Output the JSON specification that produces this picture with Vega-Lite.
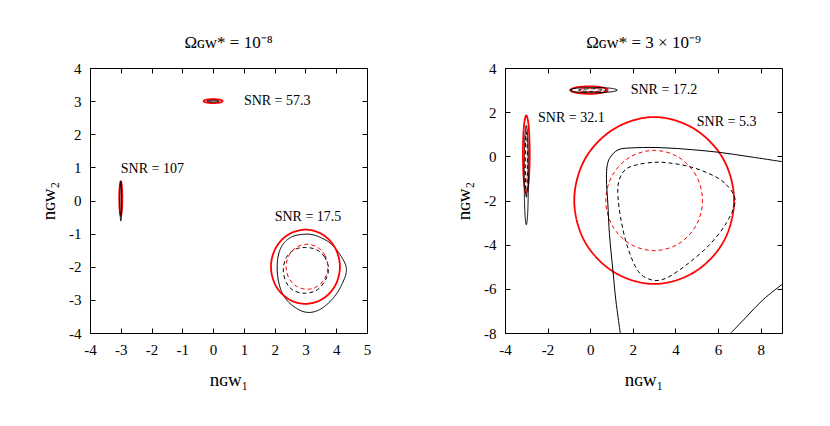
{
  "$schema": "https://vega.github.io/schema/vega-lite/v6.json",
  "padding": {"left": 39, "top": 33, "right": 5, "bottom": 5},
  "background": "white",
  "spacing": 138,
  "bounds": "flush",
  "config": {
    "view": {"stroke": "black", "strokeWidth": 1},
    "axis": {
      "labelFont": "Liberation Serif", "labelFontSize": 15, "labelColor": "black",
      "titleFont": "Liberation Serif", "titleFontSize": 19, "titleFontWeight": "normal", "titleColor": "black",
      "tickColor": "black", "tickSize": -5, "labelPadding": 14, "domain": false, "grid": false,
      "labelFlush": false, "labelOverlap": false, "titlePadding": 10
    },
    "axisX": {"titlePadding": 13},
    "title": {"font": "Liberation Serif", "fontSize": 17, "fontWeight": "normal", "color": "black", "offset": 9},
    "text": {"font": "Liberation Serif", "fontSize": 14, "color": "black"}
  },
  "datasets": {
    "leftClosed": [
      {"c":"L1","k":"red solid","i":0,"x":0.31,"y":3},{"c":"L1","k":"red solid","i":1,"x":0.219,"y":3.042},{"c":"L1","k":"red solid","i":2,"x":0,"y":3.06},{"c":"L1","k":"red solid","i":3,"x":-0.219,"y":3.042},{"c":"L1","k":"red solid","i":4,"x":-0.31,"y":3},{"c":"L1","k":"red solid","i":5,"x":-0.219,"y":2.958},{"c":"L1","k":"red solid","i":6,"x":0,"y":2.94},{"c":"L1","k":"red solid","i":7,"x":0.219,"y":2.958},
      {"c":"L3","k":"red solid","i":0,"x":-2.95,"y":0.065},{"c":"L3","k":"red solid","i":1,"x":-2.965,"y":0.433},{"c":"L3","k":"red solid","i":2,"x":-3,"y":0.585},{"c":"L3","k":"red solid","i":3,"x":-3.035,"y":0.433},{"c":"L3","k":"red solid","i":4,"x":-3.05,"y":0.065},{"c":"L3","k":"red solid","i":5,"x":-3.035,"y":-0.303},{"c":"L3","k":"red solid","i":6,"x":-3,"y":-0.455},{"c":"L3","k":"red solid","i":7,"x":-2.965,"y":-0.303},
      {"c":"L6","k":"black solid","i":0,"x":4.33,"y":-2.05},{"c":"L6","k":"black solid","i":1,"x":4.1,"y":-1.6},{"c":"L6","k":"black solid","i":2,"x":3.75,"y":-1.25},{"c":"L6","k":"black solid","i":3,"x":3.3,"y":-1.05},{"c":"L6","k":"black solid","i":4,"x":2.95,"y":-1.02},{"c":"L6","k":"black solid","i":5,"x":2.55,"y":-1.1},{"c":"L6","k":"black solid","i":6,"x":2.25,"y":-1.35},{"c":"L6","k":"black solid","i":7,"x":2.1,"y":-1.75},{"c":"L6","k":"black solid","i":8,"x":2.1,"y":-2.3},{"c":"L6","k":"black solid","i":9,"x":2.25,"y":-2.8},{"c":"L6","k":"black solid","i":10,"x":2.55,"y":-3.15},{"c":"L6","k":"black solid","i":11,"x":3.0,"y":-3.37},{"c":"L6","k":"black solid","i":12,"x":3.45,"y":-3.3},{"c":"L6","k":"black solid","i":13,"x":3.9,"y":-2.95},{"c":"L6","k":"black solid","i":14,"x":4.2,"y":-2.5},
      {"c":"L8","k":"black dashed","i":0,"x":3.75,"y":-2.05},{"c":"L8","k":"black dashed","i":1,"x":3.62,"y":-1.7},{"c":"L8","k":"black dashed","i":2,"x":3.35,"y":-1.48},{"c":"L8","k":"black dashed","i":3,"x":3.0,"y":-1.42},{"c":"L8","k":"black dashed","i":4,"x":2.65,"y":-1.48},{"c":"L8","k":"black dashed","i":5,"x":2.38,"y":-1.72},{"c":"L8","k":"black dashed","i":6,"x":2.28,"y":-2.1},{"c":"L8","k":"black dashed","i":7,"x":2.38,"y":-2.48},{"c":"L8","k":"black dashed","i":8,"x":2.62,"y":-2.72},{"c":"L8","k":"black dashed","i":9,"x":3.0,"y":-2.8},{"c":"L8","k":"black dashed","i":10,"x":3.38,"y":-2.7},{"c":"L8","k":"black dashed","i":11,"x":3.65,"y":-2.4},
      {"c":"L5","k":"red solid","i":0,"x":4.12,"y":-2},{"c":"L5","k":"red solid","i":1,"x":3.97,"y":-1.44},{"c":"L5","k":"red solid","i":2,"x":3.56,"y":-1.03},{"c":"L5","k":"red solid","i":3,"x":3,"y":-0.88},{"c":"L5","k":"red solid","i":4,"x":2.44,"y":-1.03},{"c":"L5","k":"red solid","i":5,"x":2.03,"y":-1.44},{"c":"L5","k":"red solid","i":6,"x":1.88,"y":-2},{"c":"L5","k":"red solid","i":7,"x":2.03,"y":-2.56},{"c":"L5","k":"red solid","i":8,"x":2.44,"y":-2.97},{"c":"L5","k":"red solid","i":9,"x":3,"y":-3.12},{"c":"L5","k":"red solid","i":10,"x":3.56,"y":-2.97},{"c":"L5","k":"red solid","i":11,"x":3.97,"y":-2.56},
      {"c":"L7","k":"red dashed","i":0,"x":3.73,"y":-2},{"c":"L7","k":"red dashed","i":1,"x":3.639,"y":-1.66},{"c":"L7","k":"red dashed","i":2,"x":3.39,"y":-1.411},{"c":"L7","k":"red dashed","i":3,"x":3.05,"y":-1.32},{"c":"L7","k":"red dashed","i":4,"x":2.71,"y":-1.411},{"c":"L7","k":"red dashed","i":5,"x":2.461,"y":-1.66},{"c":"L7","k":"red dashed","i":6,"x":2.37,"y":-2},{"c":"L7","k":"red dashed","i":7,"x":2.461,"y":-2.34},{"c":"L7","k":"red dashed","i":8,"x":2.71,"y":-2.589},{"c":"L7","k":"red dashed","i":9,"x":3.05,"y":-2.68},{"c":"L7","k":"red dashed","i":10,"x":3.39,"y":-2.589},{"c":"L7","k":"red dashed","i":11,"x":3.639,"y":-2.34},
      {"c":"L2","k":"black solid","i":0,"x":0.2,"y":3},{"c":"L2","k":"black solid","i":1,"x":0.141,"y":3.018},{"c":"L2","k":"black solid","i":2,"x":0,"y":3.025},{"c":"L2","k":"black solid","i":3,"x":-0.141,"y":3.018},{"c":"L2","k":"black solid","i":4,"x":-0.2,"y":3},{"c":"L2","k":"black solid","i":5,"x":-0.141,"y":2.982},{"c":"L2","k":"black solid","i":6,"x":0,"y":2.975},{"c":"L2","k":"black solid","i":7,"x":0.141,"y":2.982},
      {"c":"L4","k":"black solid","i":0,"x":-2.975,"y":-0.02},{"c":"L4","k":"black solid","i":1,"x":-2.982,"y":0.404},{"c":"L4","k":"black solid","i":2,"x":-3,"y":0.58},{"c":"L4","k":"black solid","i":3,"x":-3.018,"y":0.404},{"c":"L4","k":"black solid","i":4,"x":-3.025,"y":-0.02},{"c":"L4","k":"black solid","i":5,"x":-3.018,"y":-0.444},{"c":"L4","k":"black solid","i":6,"x":-3,"y":-0.62},{"c":"L4","k":"black solid","i":7,"x":-2.982,"y":-0.444}
    ],
    "rightClosed": [
      {"c":"R1","k":"red solid","i":0,"x":0.82,"y":3},{"c":"R1","k":"red solid","i":1,"x":0.565,"y":3.12},{"c":"R1","k":"red solid","i":2,"x":-0.05,"y":3.17},{"c":"R1","k":"red solid","i":3,"x":-0.665,"y":3.12},{"c":"R1","k":"red solid","i":4,"x":-0.92,"y":3},{"c":"R1","k":"red solid","i":5,"x":-0.665,"y":2.88},{"c":"R1","k":"red solid","i":6,"x":-0.05,"y":2.83},{"c":"R1","k":"red solid","i":7,"x":0.565,"y":2.88},
      {"c":"R2","k":"black solid","i":0,"x":1.27,"y":3},{"c":"R2","k":"black solid","i":1,"x":0.942,"y":3.085},{"c":"R2","k":"black solid","i":2,"x":0.15,"y":3.12},{"c":"R2","k":"black solid","i":3,"x":-0.642,"y":3.085},{"c":"R2","k":"black solid","i":4,"x":-0.97,"y":3},{"c":"R2","k":"black solid","i":5,"x":-0.642,"y":2.915},{"c":"R2","k":"black solid","i":6,"x":0.15,"y":2.88},{"c":"R2","k":"black solid","i":7,"x":0.942,"y":2.915},
      {"c":"R3","k":"red dashed","i":0,"x":0.55,"y":3},{"c":"R3","k":"red dashed","i":1,"x":0.389,"y":3.057},{"c":"R3","k":"red dashed","i":2,"x":0,"y":3.08},{"c":"R3","k":"red dashed","i":3,"x":-0.389,"y":3.057},{"c":"R3","k":"red dashed","i":4,"x":-0.55,"y":3},{"c":"R3","k":"red dashed","i":5,"x":-0.389,"y":2.943},{"c":"R3","k":"red dashed","i":6,"x":0,"y":2.92},{"c":"R3","k":"red dashed","i":7,"x":0.389,"y":2.943},
      {"c":"R4","k":"black dashed","i":0,"x":0.75,"y":3},{"c":"R4","k":"black dashed","i":1,"x":0.56,"y":3.042},{"c":"R4","k":"black dashed","i":2,"x":0.1,"y":3.06},{"c":"R4","k":"black dashed","i":3,"x":-0.36,"y":3.042},{"c":"R4","k":"black dashed","i":4,"x":-0.55,"y":3},{"c":"R4","k":"black dashed","i":5,"x":-0.36,"y":2.958},{"c":"R4","k":"black dashed","i":6,"x":0.1,"y":2.94},{"c":"R4","k":"black dashed","i":7,"x":0.56,"y":2.958},
      {"c":"R5","k":"red solid","i":0,"x":-2.84,"y":0.1},{"c":"R5","k":"red solid","i":1,"x":-2.887,"y":1.337},{"c":"R5","k":"red solid","i":2,"x":-3,"y":1.85},{"c":"R5","k":"red solid","i":3,"x":-3.113,"y":1.337},{"c":"R5","k":"red solid","i":4,"x":-3.16,"y":0.1},{"c":"R5","k":"red solid","i":5,"x":-3.113,"y":-1.137},{"c":"R5","k":"red solid","i":6,"x":-3,"y":-1.65},{"c":"R5","k":"red solid","i":7,"x":-2.887,"y":-1.137},
      {"c":"R6","k":"black solid","i":0,"x":-2.9,"y":-0.85},{"c":"R6","k":"black solid","i":1,"x":-2.929,"y":0.741},{"c":"R6","k":"black solid","i":2,"x":-3,"y":1.4},{"c":"R6","k":"black solid","i":3,"x":-3.071,"y":0.741},{"c":"R6","k":"black solid","i":4,"x":-3.1,"y":-0.85},{"c":"R6","k":"black solid","i":5,"x":-3.071,"y":-2.441},{"c":"R6","k":"black solid","i":6,"x":-3,"y":-3.1},{"c":"R6","k":"black solid","i":7,"x":-2.929,"y":-2.441},
      {"c":"R7","k":"red dashed","i":0,"x":-2.92,"y":0},{"c":"R7","k":"red dashed","i":1,"x":-2.943,"y":0.849},{"c":"R7","k":"red dashed","i":2,"x":-3,"y":1.2},{"c":"R7","k":"red dashed","i":3,"x":-3.057,"y":0.849},{"c":"R7","k":"red dashed","i":4,"x":-3.08,"y":0},{"c":"R7","k":"red dashed","i":5,"x":-3.057,"y":-0.849},{"c":"R7","k":"red dashed","i":6,"x":-3,"y":-1.2},{"c":"R7","k":"red dashed","i":7,"x":-2.943,"y":-0.849},
      {"c":"R8","k":"black dashed","i":0,"x":-2.95,"y":-0.4},{"c":"R8","k":"black dashed","i":1,"x":-2.965,"y":0.66},{"c":"R8","k":"black dashed","i":2,"x":-3,"y":1.1},{"c":"R8","k":"black dashed","i":3,"x":-3.035,"y":0.66},{"c":"R8","k":"black dashed","i":4,"x":-3.05,"y":-0.4},{"c":"R8","k":"black dashed","i":5,"x":-3.035,"y":-1.46},{"c":"R8","k":"black dashed","i":6,"x":-3,"y":-1.9},{"c":"R8","k":"black dashed","i":7,"x":-2.965,"y":-1.46},
      {"c":"R9","k":"red solid","i":0,"x":6.75,"y":-2},{"c":"R9","k":"red solid","i":1,"x":6.248,"y":-0.125},{"c":"R9","k":"red solid","i":2,"x":4.875,"y":1.248},{"c":"R9","k":"red solid","i":3,"x":3,"y":1.78},{"c":"R9","k":"red solid","i":4,"x":1.125,"y":1.248},{"c":"R9","k":"red solid","i":5,"x":-0.248,"y":-0.125},{"c":"R9","k":"red solid","i":6,"x":-0.75,"y":-2},{"c":"R9","k":"red solid","i":7,"x":-0.248,"y":-3.875},{"c":"R9","k":"red solid","i":8,"x":1.125,"y":-5.248},{"c":"R9","k":"red solid","i":9,"x":3,"y":-5.78},{"c":"R9","k":"red solid","i":10,"x":4.875,"y":-5.248},{"c":"R9","k":"red solid","i":11,"x":6.248,"y":-3.875},
      {"c":"R10","k":"red dashed","i":0,"x":5.27,"y":-2},{"c":"R10","k":"red dashed","i":1,"x":4.966,"y":-0.865},{"c":"R10","k":"red dashed","i":2,"x":4.135,"y":-0.034},{"c":"R10","k":"red dashed","i":3,"x":3,"y":0.27},{"c":"R10","k":"red dashed","i":4,"x":1.865,"y":-0.034},{"c":"R10","k":"red dashed","i":5,"x":1.034,"y":-0.865},{"c":"R10","k":"red dashed","i":6,"x":0.73,"y":-2},{"c":"R10","k":"red dashed","i":7,"x":1.034,"y":-3.135},{"c":"R10","k":"red dashed","i":8,"x":1.865,"y":-3.966},{"c":"R10","k":"red dashed","i":9,"x":3,"y":-4.27},{"c":"R10","k":"red dashed","i":10,"x":4.135,"y":-3.966},{"c":"R10","k":"red dashed","i":11,"x":4.966,"y":-3.135},
      {"c":"R11","k":"black dashed","i":0,"x":6.8,"y":-1.98},{"c":"R11","k":"black dashed","i":1,"x":6.3,"y":-1.2},{"c":"R11","k":"black dashed","i":2,"x":5.5,"y":-0.75},{"c":"R11","k":"black dashed","i":3,"x":4.6,"y":-0.45},{"c":"R11","k":"black dashed","i":4,"x":3.7,"y":-0.3},{"c":"R11","k":"black dashed","i":5,"x":3.0,"y":-0.27},{"c":"R11","k":"black dashed","i":6,"x":2.2,"y":-0.38},{"c":"R11","k":"black dashed","i":7,"x":1.65,"y":-0.6},{"c":"R11","k":"black dashed","i":8,"x":1.35,"y":-1.1},{"c":"R11","k":"black dashed","i":9,"x":1.3,"y":-1.8},{"c":"R11","k":"black dashed","i":10,"x":1.45,"y":-2.9},{"c":"R11","k":"black dashed","i":11,"x":1.75,"y":-4.1},{"c":"R11","k":"black dashed","i":12,"x":2.25,"y":-5.2},{"c":"R11","k":"black dashed","i":13,"x":2.9,"y":-5.6},{"c":"R11","k":"black dashed","i":14,"x":3.6,"y":-5.5},{"c":"R11","k":"black dashed","i":15,"x":4.6,"y":-4.85},{"c":"R11","k":"black dashed","i":16,"x":5.6,"y":-4.0},{"c":"R11","k":"black dashed","i":17,"x":6.4,"y":-3.0}
    ],
    "rightOpen": [
      {"c":"R12","k":"black solid","i":0,"x":1.41,"y":-8},{"c":"R12","k":"black solid","i":1,"x":1.2,"y":-6.5},{"c":"R12","k":"black solid","i":2,"x":1.07,"y":-5.22},{"c":"R12","k":"black solid","i":3,"x":0.9,"y":-3.5},{"c":"R12","k":"black solid","i":4,"x":0.83,"y":-2.2},{"c":"R12","k":"black solid","i":5,"x":0.76,"y":-1.0},{"c":"R12","k":"black solid","i":6,"x":0.8,"y":-0.4},{"c":"R12","k":"black solid","i":7,"x":0.91,"y":-0.09},{"c":"R12","k":"black solid","i":8,"x":1.3,"y":0.29},{"c":"R12","k":"black solid","i":9,"x":2.16,"y":0.39},{"c":"R12","k":"black solid","i":10,"x":3.4,"y":0.39},{"c":"R12","k":"black solid","i":11,"x":4.8,"y":0.3},{"c":"R12","k":"black solid","i":12,"x":6.06,"y":0.18},{"c":"R12","k":"black solid","i":13,"x":7.5,"y":-0.02},{"c":"R12","k":"black solid","i":14,"x":9,"y":-0.24},
      {"c":"R13","k":"black solid","i":0,"x":6.6,"y":-8},{"c":"R13","k":"black solid","i":1,"x":7.3,"y":-7.3},{"c":"R13","k":"black solid","i":2,"x":8.1,"y":-6.5},{"c":"R13","k":"black solid","i":3,"x":9,"y":-5.8}
    ],
    "leftLabels": [
      {"t":"SNR = 57.3","x":1.0,"y":3.0},{"t":"SNR = 107","x":-3.0,"y":0.95},{"t":"SNR = 17.5","x":2.0,"y":-0.5}
    ],
    "rightLabels": [
      {"t":"SNR = 17.2","x":1.9,"y":3.0},{"t":"SNR = 32.1","x":-2.45,"y":1.75},{"t":"SNR = 5.3","x":5.0,"y":1.55}
    ]
  },
  "hconcat": [
    {
      "width": 277, "height": 265,
      "title": {"text": "Ωɢᴡ* = 10⁻⁸"},
      "resolve": {"axis": {"x": "independent", "y": "independent"}},
      "layer": [
        {
          "data": {"name": "leftClosed"},
          "mark": {"type": "line", "interpolate": "cardinal-closed", "clip": true},
          "encoding": {
            "x": {"field": "x", "type": "quantitative", "scale": {"domain": [-4, 5], "nice": false, "zero": false}, "axis": {"values": [-4,-3,-2,-1,0,1,2,3,4,5], "title": "nɢᴡ₁", "labelExpr": "'' + datum.value"}},
            "y": {"field": "y", "type": "quantitative", "scale": {"domain": [-4, 4], "nice": false, "zero": false}, "axis": {"values": [-4,-3,-2,-1,0,1,2,3,4], "title": "nɢᴡ₂", "labelExpr": "'' + datum.value"}},
            "detail": {"field": "c"},
            "order": {"field": "i", "type": "quantitative"},
            "color": {"field": "k", "type": "nominal", "legend": null, "scale": {"domain": ["red solid","red dashed","black solid","black dashed"], "range": ["#ff0000","#ff0000","#000000","#000000"]}},
            "strokeDash": {"field": "k", "type": "nominal", "legend": null, "scale": {"type": "ordinal", "domain": ["red solid","red dashed","black solid","black dashed"], "range": [[1,0],[4,3],[1,0],[4,3]]}},
            "strokeWidth": {"field": "k", "type": "nominal", "legend": null, "scale": {"type": "ordinal", "domain": ["red solid","red dashed","black solid","black dashed"], "range": [1.8,1,1,1]}}
          }
        },
        {
          "data": {"name": "leftLabels"},
          "mark": {"type": "text", "align": "left", "baseline": "middle"},
          "encoding": {
            "x": {"field": "x", "type": "quantitative", "scale": {"domain": [-4, 5], "nice": false, "zero": false}, "axis": {"orient": "top", "values": [-4,-3,-2,-1,0,1,2,3,4,5], "labels": false, "title": null}},
            "y": {"field": "y", "type": "quantitative", "scale": {"domain": [-4, 4], "nice": false, "zero": false}, "axis": {"orient": "right", "values": [-4,-3,-2,-1,0,1,2,3,4], "labels": false, "title": null}},
            "text": {"field": "t"}
          }
        }
      ]
    },
    {
      "width": 277, "height": 265,
      "title": {"text": "Ωɢᴡ* = 3 × 10⁻⁹"},
      "resolve": {"axis": {"x": "independent", "y": "independent"}},
      "layer": [
        {
          "data": {"name": "rightClosed"},
          "mark": {"type": "line", "interpolate": "cardinal-closed", "clip": true},
          "encoding": {
            "x": {"field": "x", "type": "quantitative", "scale": {"domain": [-4, 9], "nice": false, "zero": false}, "axis": {"values": [-4,-2,0,2,4,6,8], "title": "nɢᴡ₁", "labelExpr": "'' + datum.value"}},
            "y": {"field": "y", "type": "quantitative", "scale": {"domain": [-8, 4], "nice": false, "zero": false}, "axis": {"values": [-8,-6,-4,-2,0,2,4], "title": "nɢᴡ₂", "labelExpr": "'' + datum.value"}},
            "detail": {"field": "c"},
            "order": {"field": "i", "type": "quantitative"},
            "color": {"field": "k", "type": "nominal", "legend": null, "scale": {"domain": ["red solid","red dashed","black solid","black dashed"], "range": ["#ff0000","#ff0000","#000000","#000000"]}},
            "strokeDash": {"field": "k", "type": "nominal", "legend": null, "scale": {"type": "ordinal", "domain": ["red solid","red dashed","black solid","black dashed"], "range": [[1,0],[4,3],[1,0],[4,3]]}},
            "strokeWidth": {"field": "k", "type": "nominal", "legend": null, "scale": {"type": "ordinal", "domain": ["red solid","red dashed","black solid","black dashed"], "range": [1.5,1,1,1]}}
          }
        },
        {
          "data": {"name": "rightOpen"},
          "mark": {"type": "line", "interpolate": "catmull-rom", "clip": true, "color": "black", "strokeWidth": 1},
          "encoding": {
            "x": {"field": "x", "type": "quantitative", "scale": {"domain": [-4, 9], "nice": false, "zero": false}, "axis": null},
            "y": {"field": "y", "type": "quantitative", "scale": {"domain": [-8, 4], "nice": false, "zero": false}, "axis": null},
            "detail": {"field": "c"},
            "order": {"field": "i", "type": "quantitative"}
          }
        },
        {
          "data": {"name": "rightLabels"},
          "mark": {"type": "text", "align": "left", "baseline": "middle"},
          "encoding": {
            "x": {"field": "x", "type": "quantitative", "scale": {"domain": [-4, 9], "nice": false, "zero": false}, "axis": {"orient": "top", "values": [-4,-2,0,2,4,6,8], "labels": false, "title": null}},
            "y": {"field": "y", "type": "quantitative", "scale": {"domain": [-8, 4], "nice": false, "zero": false}, "axis": {"orient": "right", "values": [-8,-6,-4,-2,0,2,4], "labels": false, "title": null}},
            "text": {"field": "t"}
          }
        }
      ]
    }
  ]
}
